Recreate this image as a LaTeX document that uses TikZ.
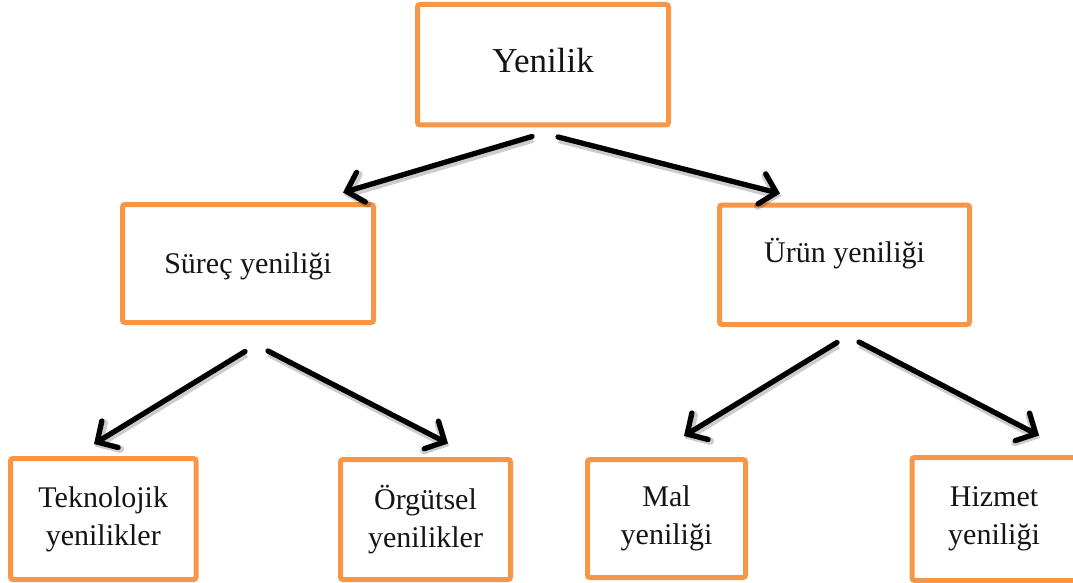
\documentclass[tikz,border=0pt]{standalone}
\usepackage{fontspec}
\setmainfont{Liberation Serif}
\usetikzlibrary{arrows.meta}

\definecolor{boxorange}{HTML}{F79646}

\tikzset{
  box/.style={draw=boxorange, line width=5pt, rounded corners=2.5pt,
    fill=white, inner sep=0pt, align=center, text=black!92,
    font=\fontsize{30}{38}\selectfont},
  link/.style={line width=5.3pt, line cap=round, black,
    -{Straight Barb[length=15pt, width=31pt, line cap=round]},
    preaction={draw=black, opacity=0.2, line width=7.5pt,
      transform canvas={shift={(1pt,-2.5pt)}}}}
}

\begin{document}
\begin{tikzpicture}[x=1pt, y=-1pt]
\useasboundingbox (0,0) rectangle (1073,583);

% top level
\node[box, minimum width=251pt, minimum height=120.5pt,
      font=\fontsize{35}{41}\selectfont, text height=24.5pt, text depth=9.5pt]
  (yen) at (543,64.75) {Yenilik};

% second level
\node[box, minimum width=251pt, minimum height=118pt,
      text height=25pt, text depth=6pt]
  (sur) at (248,263.5) {Süreç yeniliği};
\node[box, minimum width=250pt, minimum height=119.5pt,
      text height=22pt, text depth=27.5pt]
  (uru) at (844.5,264.75) {Ürün yeniliği};

% third level
\node[box, minimum width=185.5pt, minimum height=121pt]
  (tek) at (103.25,519) {Teknolojik\\yenilikler};
\node[box, minimum width=170pt, minimum height=120pt]
  (org) at (425.5,519.5) {Örgütsel\\yenilikler};
\node[box, minimum width=158pt, minimum height=118pt]
  (mal) at (666.5,518.5) {Mal\\yeniliği};
\node[box, minimum width=164pt, minimum height=123pt]
  (hiz) at (994,519) {Hizmet\\yeniliği};

% arrow end points, kept clear of the boxes
\coordinate (yenL) at (532,136.5);
\coordinate (surT) at (343,192.5);
\coordinate (yenR) at (558,137);
\coordinate (uruT) at (780,193.5);
\coordinate (surL) at (245,351.5);
\coordinate (tekT) at (94,444);
\coordinate (surR) at (268,351);
\coordinate (orgT) at (448,443.5);
\coordinate (uruL) at (837,342.5);
\coordinate (malT) at (684,436);
\coordinate (uruR) at (859,342);
\coordinate (hizT) at (1039,435.5);

\draw[link] (yenL) -- (surT);
\draw[link] (yenR) -- (uruT);
\draw[link] (surL) -- (tekT);
\draw[link] (surR) -- (orgT);
\draw[link] (uruL) -- (malT);
\draw[link] (uruR) -- (hizT);
\end{tikzpicture}
\end{document}
